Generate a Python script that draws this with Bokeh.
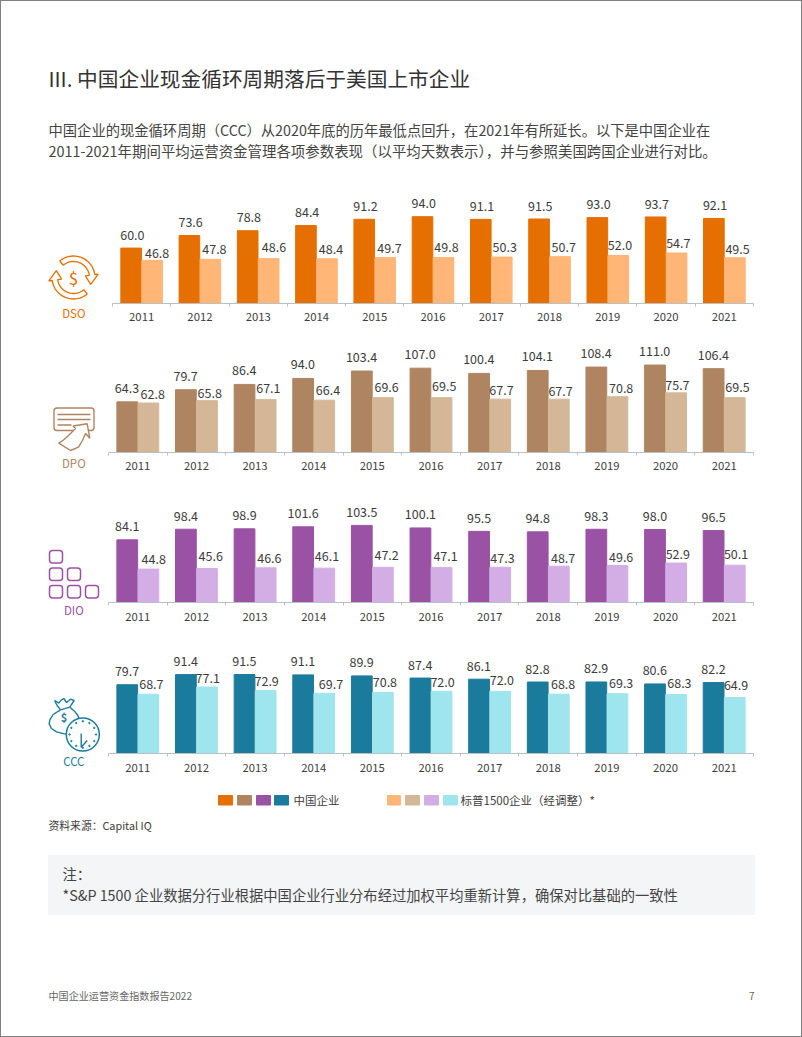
import math
from bokeh.plotting import figure
from bokeh.layouts import column, row
from bokeh.models import ColumnDataSource, Range1d, FixedTicker, NumeralTickFormatter
from bokeh.core.properties import value
from bokeh.embed import file_html
from bokeh.resources import INLINE
from bokeh.transform import dodge

FONT = value("Noto Sans CJK SC")

years = [2011, 2012, 2013, 2014, 2015, 2016, 2017, 2018, 2019, 2020, 2021]

dso_china = [60.0, 73.6, 78.8, 84.4, 91.2, 94.0, 91.1, 91.5, 93.0, 93.7, 92.1]
dso_sp = [46.8, 47.8, 48.6, 48.4, 49.7, 49.8, 50.3, 50.7, 52.0, 54.7, 49.5]
dpo_china = [64.3, 79.7, 86.4, 94.0, 103.4, 107.0, 100.4, 104.1, 108.4, 111.0, 106.4]
dpo_sp = [62.8, 65.8, 67.1, 66.4, 69.6, 69.5, 67.7, 67.7, 70.8, 75.7, 69.5]
dio_china = [84.1, 98.4, 98.9, 101.6, 103.5, 100.1, 95.5, 94.8, 98.3, 98.0, 96.5]
dio_sp = [44.8, 45.6, 46.6, 46.1, 47.2, 47.1, 47.3, 48.7, 49.6, 52.9, 50.1]
ccc_china = [79.7, 91.4, 91.5, 91.1, 89.9, 87.4, 86.1, 82.8, 82.9, 80.6, 82.2]
ccc_sp = [68.7, 77.1, 72.9, 69.7, 70.8, 72.0, 72.0, 68.8, 69.3, 68.3, 64.9]

# colours
DARK = ["#E56F00", "#AE8560", "#9A52A4", "#1B7B9C"]
LIGHT = ["#FFB676", "#D4B797", "#D2AEE5", "#9FE5EE"]
INK = "#3c3c3c"
AXIS = "#b9c0c6"

# label nudges in screen pixels, separate from the data
dso_sp_dx = [5, 4, 5.3, 4, 4.3, 3, 3, 3.7, 1.7, 1.7, 2.7]
dso_sp_dy = [7.3, 10, 11.3, 10, 9.7, 10.7, 9.7, 9.3, 10, 10.3, 8.3]
dpo_sp_dx = [4.3, 2.7, 2.7, 3.7, 3.7, 2.7, 1.3, 1.7, 3.7, 1.3, 2.7]
dpo_sp_dy = [9.3, 8, 11.3, 9.7, 10.3, 11.7, 9, 8.3, 9, 8.3, 11]
dio_sp_dx = [5.3, 3.7, 3.7, 2.7, 3.7, 4, 2.3, 4.3, 3.7, 1.7, 1.3]
dio_sp_dy = [9.7, 12.3, 10, 11.7, 12, 11, 9.7, 8.7, 8.3, 9, 11]
ccc_sp_dx = [3, 0.7, 1, 6.7, 2, 1, 1.7, 4.3, 3.7, 3.3, 1.3]
ccc_sp_dy = [10, 9.3, 9.7, 9, 10.7, 9.7, 11, 10, 11, 11.3, 12.7]

# inner page edges (a 1px page border surrounds them)
L, R_EDGE, T, B = 1, 801, 1, 1036


def page_fig(left, right, top, bottom):
    p = figure(width=right - left, height=bottom - top, x_range=Range1d(left, right),
               y_range=Range1d(bottom, top), x_axis_type=None, y_axis_type=None,
               output_backend="svg", toolbar_location=None, min_border=0, outline_line_color=None,
               frame_align=False)
    p.grid.visible = False
    return p


def put(p, x, y, s, size, color=INK, align="left", weight="normal"):
    p.text(x=[x], y=[y - 1], text=[s], text_font=FONT, text_font_size=f"{size}px", text_color=color,
           text_align=align, text_baseline="middle", text_font_style=weight)


def chart(china, sp, dark, light, axis_left, top, baseline, bottom, scale, sp_dx, sp_dy, china_dx, china_dy, standoff):
    right = 753
    h = baseline - top
    p = figure(width=R_EDGE - axis_left, height=bottom - top,
               x_range=Range1d(years[0] - 0.5, years[-1] + 0.5), y_range=Range1d(0, h / scale),
               output_backend="svg", toolbar_location=None, outline_line_color=None,
               min_border_left=0, min_border_top=0, min_border_right=R_EDGE - right,
               min_border_bottom=bottom - baseline, frame_align=False)
    p.grid.visible = False
    p.yaxis.visible = False
    ax = p.xaxis[0]
    ax.ticker = FixedTicker(ticks=years, minor_ticks=[y - 0.5 for y in years] + [years[-1] + 0.5])
    ax.formatter = NumeralTickFormatter(format="0")
    ax.major_tick_line_color = None
    ax.major_tick_in = 0
    ax.major_tick_out = 0
    ax.minor_tick_in = 0
    ax.minor_tick_out = 3
    ax.minor_tick_line_color = AXIS
    ax.axis_line_color = AXIS
    ax.major_label_standoff = standoff
    ax.major_label_text_font = "Noto Sans CJK SC"
    ax.major_label_text_font_size = "11.3px"
    ax.major_label_text_color = INK
    src = ColumnDataSource(dict(
        year=years, china=china, sp=sp,
        china_txt=[f"{v:.1f}" for v in china], sp_txt=[f"{v:.1f}" for v in sp],
        china_dx=[china_dx] * len(years), china_dy=[-china_dy] * len(years),
        sp_dx=sp_dx, sp_dy=[-d for d in sp_dy],
    ))
    off = 0.18
    w = 0.354
    p.vbar(x=dodge("year", -off, range=p.x_range), top="china", width=w, color=dark, source=src)
    p.vbar(x=dodge("year", off, range=p.x_range), top="sp", width=w, color=light, source=src)
    p.text(x=dodge("year", -off, range=p.x_range), y="china", text="china_txt", x_offset="china_dx",
           y_offset="china_dy", source=src, text_font=FONT, text_font_size="12.5px", text_color=INK,
           text_align="center", text_baseline="middle")
    p.text(x=dodge("year", off, range=p.x_range), y="sp", text="sp_txt", x_offset="sp_dx",
           y_offset="sp_dy", source=src, text_font=FONT, text_font_size="12.5px", text_color=INK,
           text_align="center", text_baseline="middle")
    return p


# ---------- header ----------
head = page_fig(L, R_EDGE, T, 190)
put(head, 48, 78, "III. 中国企业现金循环周期落后于美国上市企业", 20.7, "#333333")
put(head, 48, 130, "中国企业的现金循环周期（CCC）从2020年底的历年最低点回升，在2021年有所延长。以下是中国企业在", 14.3, "#444444")
put(head, 48, 151, "2011-2021年期间平均运营资金管理各项参数表现（以平均天数表示），并与参照美国跨国企业进行对比。", 14.45, "#444444")

# ---------- icons ----------
def icon_dso(left, right, top, bottom):
    p = page_fig(left, right, top, bottom)
    c = DARK[0]
    cx, cy = 73, 277
    R, r = 21.5, 16
    for rot in (0, 180):
        pts = []
        a0, a1 = 130, 8
        n = 16
        for i in range(n + 1):
            a = a0 + (a1 - a0) * i / n + rot
            pts.append((cx + R * math.cos(math.radians(a)), cy - R * math.sin(math.radians(a))))
        a = a1 + rot
        pts.append((cx + (R + 3.5) * math.cos(math.radians(a)), cy - (R + 3.5) * math.sin(math.radians(a))))
        t = a - 30
        pts.append((cx + 18.5 * math.cos(math.radians(t)), cy - 18.5 * math.sin(math.radians(t))))
        pts.append((cx + (r - 4) * math.cos(math.radians(a)), cy - (r - 4) * math.sin(math.radians(a))))
        for i in range(n + 1):
            a = a1 + (a0 - a1) * i / n + rot
            pts.append((cx + r * math.cos(math.radians(a)), cy - r * math.sin(math.radians(a))))
        pts.append(pts[0])
        p.line([q[0] for q in pts], [q[1] for q in pts], line_color=c, line_width=1.3)
    put(p, cx, cy + 1, "$", 17, c, "center")
    put(p, 73.3, 313.7, "DSO", 11.5, c, "center")
    return p


def icon_dpo(left, right, top, bottom):
    p = page_fig(left, right, top, bottom)
    c = DARK[1]
    p.quad(left=[53.5], right=[93.5], top=[407.5], bottom=[430], fill_color="white", line_color=c,
           line_width=1.4, border_radius=3)
    p.multi_line([[57, 90], [57, 90], [57, 71]], [[414, 414], [419, 419], [424.5, 424.5]], line_color=c, line_width=1.3)
    xs = [58.3, 63, 68, 72, 75, 72.5, 86.7, 89.3, 85, 82, 78, 70, 58.3]
    ys = [442.7, 439.5, 435, 431, 428, 425.5, 423.3, 437.7, 433, 440, 446.7, 450, 442.7]
    p.patch(xs, ys, fill_color="white", line_color=c, line_width=1.4)
    put(p, 73.3, 463, "DPO", 11.5, c, "center")
    return p


def icon_dio(left, right, top, bottom):
    p = page_fig(left, right, top, bottom)
    c = DARK[2]
    ls = [49, 49, 67, 49, 67, 85]
    ts = [550, 567.5, 567.5, 585, 585, 585]
    p.quad(left=ls, right=[v + 13 for v in ls], top=ts, bottom=[v + 12.5 for v in ts], fill_color=None,
           line_color=c, line_width=1.5, border_radius=3)
    put(p, 73.3, 610.7, "DIO", 11.5, c, "center")
    return p


def icon_ccc(left, right, top, bottom):
    p = page_fig(left, right, top, bottom)
    c = DARK[3]
    zx = [60, 50, 45, 43, 55, 62, 70, 78, 90, 101, 93, 88, 102, 112, 118, 115, 95, 72, 48, 33, 26, 28, 38, 60]
    zy = [58, 45, 36, 30, 38, 29, 24, 36, 26, 30, 42, 50, 62, 75, 92, 110, 130, 130, 124, 114, 100, 88, 72, 58]
    p.line([40 + v / 3 for v in zx], [690 + v / 3 for v in zy], line_color=c, line_width=1.4)
    p.line([40 + v / 3 for v in [60, 88]], [690 + v / 3 for v in [58, 50]], line_color=c, line_width=1.4)
    put(p, 63.5, 717, "$", 11, c, "center", "bold")
    cx, cy, rad = 82.3, 734, 16.5
    p.circle(x=[cx], y=[cy], radius=rad, fill_color="white", line_color=c, line_width=1.5)
    p.scatter(x=[cx + 13.2 * math.cos(2 * math.pi * i / 12) for i in range(12)],
              y=[cy + 13.2 * math.sin(2 * math.pi * i / 12) for i in range(12)], size=1.4, color=c)
    p.line([80.7, 80.7, 86.7], [733, 746.7, 740], line_color=c, line_width=1.4)
    put(p, 73.3, 761.7, "CCC", 11.5, c, "center")
    return p


# ---------- charts ----------
rows = []
specs = [
    (dso_china, dso_sp, 0, 112, 190, 303, 330, 0.9235, dso_sp_dx, dso_sp_dy, 1.2, 13.3, 5, icon_dso),
    (dpo_china, dpo_sp, 1, 108, 330, 452, 480, 0.788, dpo_sp_dx, dpo_sp_dy, -0.3, 14, 5, icon_dpo),
    (dio_china, dio_sp, 2, 108, 480, 602, 630, 0.745, dio_sp_dx, dio_sp_dy, 0, 13.6, 6, icon_dio),
    (ccc_china, ccc_sp, 3, 108, 630, 753, 780, 0.863, ccc_sp_dx, ccc_sp_dy, -0.2, 13.5, 6, icon_ccc),
]
for china, sp, k, al, top, base, bot, sc, dx, dy, cdx, cdy, so, icon in specs:
    rows.append(row(icon(L, al, top, bot),
                    chart(china, sp, DARK[k], LIGHT[k], al, top, base, bot, sc, dx, dy, cdx, cdy, so),
                    spacing=0))

# ---------- footer ----------
foot = page_fig(L, R_EDGE, 780, B)
foot.quad(left=[218, 237, 256, 274], right=[232, 251, 270, 288], top=[795] * 4, bottom=[804.5] * 4, color=DARK)
foot.quad(left=[387, 405, 424, 443], right=[400, 419, 438, 457], top=[795] * 4, bottom=[804.5] * 4, color=LIGHT)
put(foot, 293, 800, "中国企业", 11.5)
put(foot, 460, 800, "标普1500企业（经调整）*", 11.5)
put(foot, 48, 825, "资料来源：Capital IQ", 10.8)
foot.quad(left=[48], right=[754], top=[855], bottom=[914], color="#F4F5F7")
put(foot, 62, 874, "注：", 14.3, "#444444")
put(foot, 62, 895, "*S&P 1500 企业数据分行业根据中国企业行业分布经过加权平均重新计算，确保对比基础的一致性", 14.3, "#444444")
put(foot, 48, 996, "中国企业运营资金指数报告2022", 10.1, "#666666")
put(foot, 754, 996, "7", 10, "#666666", "right")

page = column(head, *rows, foot, spacing=0, styles={"border": "1px solid #808080"})
open("out.html", "w").write(file_html(page, INLINE))
